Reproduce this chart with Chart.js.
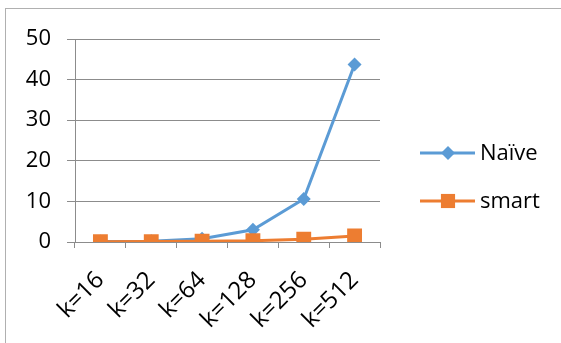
<!DOCTYPE html>
<html>
<head>
<meta charset="utf-8">
<script src="https://cdn.jsdelivr.net/npm/chart.js@4"></script>
<style>
  html, body { margin: 0; padding: 0; background: #fff; }
  #wrap { width: 561px; height: 343px; }
</style>
</head>
<body>
<div id="wrap"><canvas id="chart" width="561" height="343"></canvas></div>
<script>
const categories = ["k=16", "k=32", "k=64", "k=128", "k=256", "k=512"];
const naive = [0.1, 0.2, 0.8, 3.0, 10.6, 43.7];
const smart = [0.05, 0.1, 0.2, 0.3, 0.7, 1.5];
const seriesNames = ["Naïve", "smart"];
const yTicks = [0, 10, 20, 30, 40, 50];

const FONT = "'Open Sans', sans-serif";
const BLUE = "#5B9BD5";
const ORANGE = "#ED7D31";
const GRID = "#8c8c8c";

// frame around the chart + legend drawn by hand
const framePlugin = {
  id: "frame",
  beforeDraw(chart) {
    const c = chart.ctx;
    c.save();
    c.fillStyle = "#fff";
    c.fillRect(0, 0, chart.width, chart.height);
    c.strokeStyle = "#b0b0b0";
    c.lineWidth = 1;
    c.strokeRect(5.5, 8.5, 700, 500);
    c.restore();
  },
  afterDraw(chart) {
    const c = chart.ctx;
    const items = [
      { label: seriesNames[0], color: BLUE, style: "rectRot", r: 7, y: 153 },
      { label: seriesNames[1], color: ORANGE, style: "rect", r: 10, y: 201 },
    ];
    c.save();
    items.forEach((it) => {
      c.strokeStyle = it.color;
      c.lineWidth = 3;
      c.beginPath();
      c.moveTo(420, it.y);
      c.lineTo(475, it.y);
      c.stroke();
      c.fillStyle = it.color;
      Chart.helpers.drawPoint(c, { pointStyle: it.style, radius: it.r, borderWidth: 0 }, 448, it.y);
      c.fillStyle = "#000";
      c.font = "22px " + FONT;
      c.textBaseline = "middle";
      c.fillText(it.label, 480, it.y + 1);
    });
    c.restore();
  },
};

new Chart(document.getElementById("chart"), {
  type: "line",
  data: {
    labels: categories,
    datasets: [
      {
        label: seriesNames[0],
        data: naive,
        borderColor: BLUE,
        backgroundColor: BLUE,
        borderWidth: 3,
        pointStyle: "rectRot",
        pointRadius: 7,
        pointBorderWidth: 0,
        tension: 0,
        order: 1,
      },
      {
        label: seriesNames[1],
        data: smart,
        borderColor: ORANGE,
        backgroundColor: ORANGE,
        borderWidth: 3,
        pointStyle: "rect",
        pointRadius: 10.5,
        pointBorderWidth: 0,
        tension: 0,
        order: 0,
      },
    ],
  },
  options: {
    responsive: false,
    animation: false,
    layout: { padding: { top: 39, right: 181, left: 0, bottom: 0 } },
    plugins: {
      legend: { display: false },
      tooltip: { enabled: false },
    },
    scales: {
      x: {
        offset: true,
        grid: { offset: true, drawOnChartArea: false, color: GRID, tickLength: 6 },
        border: { color: GRID },
        ticks: {
          color: "#000",
          font: { family: FONT, size: 24 },
          minRotation: 45,
          maxRotation: 45,
          padding: 18,
        },
        afterFit(scale) { scale.height = 101; },
      },
      y: {
        min: 0,
        max: 50,
        afterBuildTicks(scale) { scale.ticks = yTicks.map((v) => ({ value: v })); },
        grid: { color: GRID, tickLength: 8 },
        border: { color: GRID },
        ticks: {
          color: "#000",
          font: { family: FONT, size: 22 },
          padding: 16,
        },
        afterFit(scale) { scale.width = 75; },
      },
    },
  },
  plugins: [framePlugin],
});
</script>
</body>
</html>
